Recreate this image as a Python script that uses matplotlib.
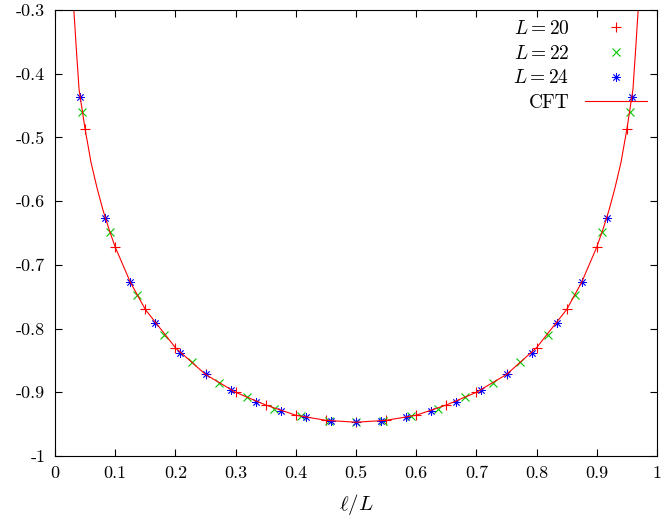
import matplotlib
matplotlib.use("Agg")
import matplotlib.pyplot as plt

plt.rcParams["font.family"] = "cmr10"
plt.rcParams["mathtext.fontset"] = "cm"
plt.rcParams["axes.unicode_minus"] = False
plt.rcParams["axes.formatter.use_mathtext"] = False

# data
x20 = [k / 20 for k in range(1, 20)]
y20 = [-0.487, -0.672, -0.770, -0.830, -0.872, -0.900, -0.920, -0.936, -0.944, -0.947,
       -0.944, -0.936, -0.920, -0.900, -0.872, -0.830, -0.770, -0.672, -0.487]
x22 = [k / 22 for k in range(1, 22)]
y22 = [-0.460, -0.648, -0.747, -0.810, -0.853, -0.886, -0.908, -0.926, -0.938, -0.945, -0.947,
       -0.945, -0.938, -0.926, -0.908, -0.886, -0.853, -0.810, -0.747, -0.648, -0.460]
x24 = [k / 24 for k in range(1, 24)]
y24 = [-0.437, -0.627, -0.727, -0.792, -0.838, -0.872, -0.897, -0.915, -0.929, -0.939, -0.945, -0.947,
       -0.945, -0.939, -0.929, -0.915, -0.897, -0.872, -0.838, -0.792, -0.727, -0.627, -0.437]
x_cft = [0.030, 0.035, 0.040, 0.050, 0.060, 0.070, 0.080, 0.090, 0.100, 0.125, 0.150, 0.200,
         0.250, 0.300, 0.350, 0.400, 0.450, 0.500, 0.550, 0.600, 0.650, 0.700, 0.750, 0.800,
         0.850, 0.875, 0.900, 0.910, 0.920, 0.930, 0.940, 0.950, 0.960, 0.965, 0.970]
y_cft = [-0.280, -0.355, -0.425, -0.487, -0.540, -0.580, -0.615, -0.645, -0.672, -0.727, -0.770, -0.830,
         -0.872, -0.900, -0.920, -0.936, -0.944, -0.947, -0.944, -0.936, -0.920, -0.900, -0.872, -0.830,
         -0.770, -0.727, -0.672, -0.645, -0.615, -0.580, -0.540, -0.487, -0.425, -0.355, -0.280]

fig = plt.figure(figsize=(6.64, 5.31), dpi=100)
ax = fig.add_axes([55 / 664, 75 / 531, 602 / 664, 446 / 531])

ax.plot(x20, y20, "+", color="#ff0000", markersize=7, mew=0.8, label="$L=20$")
ax.plot(x22, y22, "x", color="#00c800", markersize=6, mew=0.8, label="$L=22$")
ax.plot(x24, y24, marker=(8, 2, 0), ls="none", color="#0000ff", markersize=6, mew=0.6, label="$L=24$")
ax.plot(x_cft, y_cft, "-", color="#ff0000", lw=0.8, label="CFT")

ax.set_xlim(0, 1)
ax.set_ylim(-1, -0.3)
ax.set_xticks([i / 10 for i in range(11)])
ax.set_xticklabels(["0", "0.1", "0.2", "0.3", "0.4", "0.5", "0.6", "0.7", "0.8", "0.9", "1"])
ax.set_yticks([-1, -0.9, -0.8, -0.7, -0.6, -0.5, -0.4, -0.3])
ax.set_yticklabels(["-1", "-0.9", "-0.8", "-0.7", "-0.6", "-0.5", "-0.4", "-0.3"])
ax.tick_params(direction="in", top=True, right=True, labelsize=13, length=5, pad=7)
ax.set_xlabel(r"$\ell/L$", fontsize=15, labelpad=8)

ax.legend(loc="upper right", markerfirst=False, frameon=False, fontsize=14,
          handlelength=3.2, borderaxespad=0.1, labelspacing=0.35)

fig.savefig("out.png", dpi=100)
